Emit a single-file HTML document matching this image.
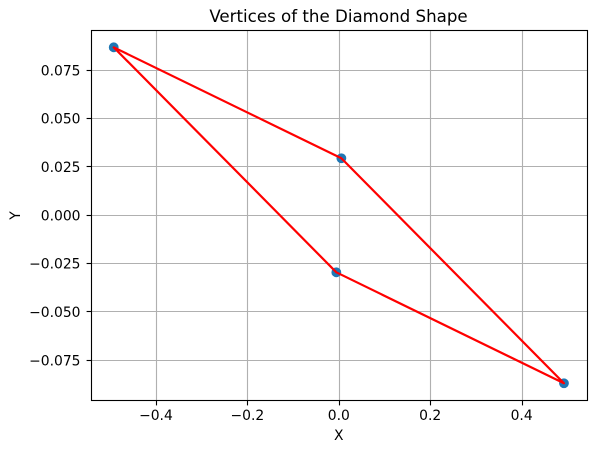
<!DOCTYPE html>
<html>
<head>
<meta charset="utf-8">
<title>Vertices of the Diamond Shape</title>
<style>
html,body{margin:0;padding:0;background:#fff;width:596px;height:453px;overflow:hidden}
svg{display:block}
text{font-family:"DejaVu Sans",sans-serif;fill:#000}
</style>
</head>
<body>
<svg id="chart" width="596" height="453" viewBox="0 0 596 453" xmlns="http://www.w3.org/2000/svg">
  <text x="338.5" y="22" text-anchor="middle" style="font-size:16.67px">Vertices of the Diamond Shape</text>
  <g id="grid"></g>
  <g id="series"></g>
  <g id="ticks"></g>
  <rect x="91.5" y="30.5" width="496" height="370" fill="none" stroke="#000" stroke-width="1.11"></rect>
  <text x="338.8" y="440" text-anchor="middle" style="font-size:13.89px">X</text>
  <text x="0" y="0" text-anchor="middle" transform="translate(20,215.5) rotate(-90)" style="font-size:13.89px">Y</text>
</svg>
<script>
var xTicks = [-0.4, -0.2, 0, 0.2, 0.4];
var xTickLabels = ['\u22120.4', '\u22120.2', '0.0', '0.2', '0.4'];
var yTicks = [0.075, 0.05, 0.025, 0, -0.025, -0.05, -0.075];
var yTickLabels = ['0.075', '0.050', '0.025', '0.000', '\u22120.025', '\u22120.050', '\u22120.075'];
var vertexX = [-0.4935, 0.0045, 0.4915, -0.0065];
var vertexY = [0.0869, 0.0295, -0.0869, -0.0295];

var NS = 'http://www.w3.org/2000/svg';
function sx(v) { return 339.3 + v * 457.1; }
function sy(v) { return 215.3 - v * 1933; }
function snap(p) { return Math.floor(p) + 0.5; }
function make(tag, attrs, parent) {
  var el = document.createElementNS(NS, tag);
  for (var k in attrs) { el.setAttribute(k, attrs[k]); }
  parent.appendChild(el);
  return el;
}
var grid = document.getElementById('grid');
var ticks = document.getElementById('ticks');
var series = document.getElementById('series');

xTicks.forEach(function (v, i) {
  var x = snap(sx(v));
  var g = make('line', {x1: x, x2: x, y1: 30.5, y2: 400.5, stroke: '#b0b0b0', 'stroke-width': 1.11}, grid);
  
  
  var t = make('line', {x1: x, x2: x, y1: 400.5, y2: 405.4, stroke: '#000', 'stroke-width': 1.11}, ticks);
  
  
  var l = make('text', {x: sx(v) - 0.5, y: 420, 'text-anchor': 'middle', style: 'font-size:13.89px'}, ticks);
  
  
  l.textContent = xTickLabels[i];
});

yTicks.forEach(function (v, i) {
  var y = snap(sy(v));
  var g = make('line', {x1: 91.5, x2: 587.5, y1: y, y2: y, stroke: '#b0b0b0', 'stroke-width': 1.11}, grid);
  
  
  var t = make('line', {x1: 86.6, x2: 91.5, y1: y, y2: y, stroke: '#000', 'stroke-width': 1.11}, ticks);
  
  
  var l = make('text', {x: 80.5, y: sy(v) + 5, 'text-anchor': 'end', style: 'font-size:13.89px'}, ticks);
  
  
  l.textContent = yTickLabels[i];
});

vertexX.forEach(function (v, i) {
  var c = make('circle', {cx: sx(v), cy: sy(vertexY[i]), r: 4.9, fill: '#1f77b4'}, series);
  
  
});

var pts = vertexX.map(function (v, i) { return sx(v).toFixed(2) + ',' + sy(vertexY[i]).toFixed(2); }).join(' ');
var poly = make('polygon', {points: pts, fill: 'none', stroke: '#ff0000', 'stroke-width': 2.2, 'stroke-linejoin': 'round'}, series);


</script>
</body>
</html>
